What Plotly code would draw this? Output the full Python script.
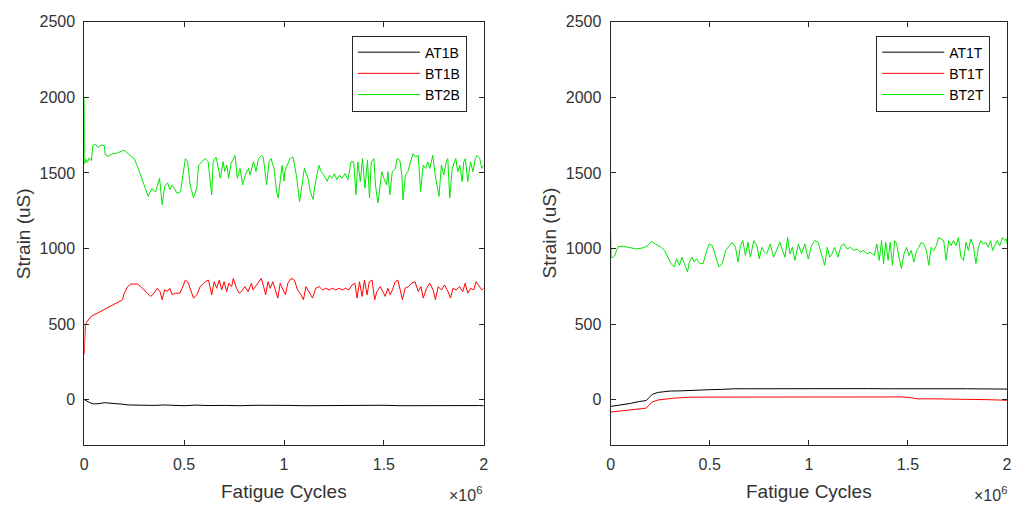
import numpy as np
import plotly.graph_objects as go

# ---------------- data (x in thousands of cycles, y in microstrain) ----------------
at1b_x = [0, 10, 25, 45, 70, 100, 130, 160, 190, 220, 260, 300, 350, 400, 450, 500, 560, 620, 700, 780,
          860, 940, 1020, 1100, 1180, 1260, 1340, 1420, 1500, 1580, 1660, 1740, 1820, 1900, 1980, 2000]
at1b_y = [0, -8, -18, -28, -27, -20, -22, -25, -30, -35, -37, -36, -38, -35, -38, -40, -36, -39, -38, -40,
          -37, -40, -38, -40, -39, -40, -38, -40, -37, -40, -39, -40, -38, -40, -39, -40]

bt1b_x = [0, 2, 5, 10, 35, 68, 117, 167, 192, 197, 217, 233, 266, 283, 300, 316, 332, 349, 365, 379,
          390, 402, 415, 428, 440, 456, 478, 490, 506, 518, 531, 547, 564, 580, 605, 622, 638, 650, 663, 676,
          688, 700, 713, 724, 738, 746, 762, 776, 787, 804, 820, 837, 845, 862, 878, 886, 898, 908, 920, 931,
          944, 958, 969, 981, 994, 1007, 1019, 1035, 1052, 1068, 1085, 1097, 1110, 1126, 1143, 1159, 1176, 1193, 1209, 1226,
          1242, 1259, 1275, 1292, 1308, 1325, 1341, 1355, 1366, 1378, 1391, 1403, 1416, 1427, 1441, 1454, 1465, 1482, 1494, 1507,
          1520, 1532, 1543, 1556, 1570, 1581, 1593, 1606, 1623, 1639, 1656, 1672, 1686, 1697, 1714, 1730, 1747, 1758, 1772, 1788,
          1804, 1821, 1834, 1846, 1862, 1879, 1895, 1907, 1920, 1934, 1950, 1962, 1978, 1990, 2000]
bt1b_y = [300, 420, 490, 509, 552, 574, 607, 639, 661, 694, 748, 765, 765, 748, 726, 704, 683, 704, 737, 715,
          661, 726, 715, 737, 694, 704, 704, 737, 791, 780, 726, 672, 694, 748, 780, 791, 694, 780, 737, 791,
          726, 780, 715, 770, 748, 802, 737, 704, 715, 748, 715, 770, 726, 759, 791, 802, 748, 694, 780, 737,
          780, 726, 672, 770, 726, 694, 770, 802, 791, 726, 694, 661, 748, 715, 672, 737, 748, 726, 737, 726,
          737, 726, 737, 726, 737, 726, 759, 770, 672, 780, 683, 791, 694, 780, 791, 661, 715, 748, 715, 683,
          737, 694, 726, 780, 791, 737, 661, 737, 748, 770, 780, 715, 748, 672, 737, 770, 726, 661, 748, 726,
          759, 715, 672, 737, 726, 748, 715, 770, 704, 737, 726, 780, 748, 726, 737]

bt2b_x = [0, 2, 8, 15, 25, 35, 43, 55, 70, 85, 100, 105, 120, 140, 160, 180, 200, 225, 250, 270,
          300, 320, 337, 357, 377, 390, 402, 417, 428, 440, 465, 482, 506, 517, 530, 547, 563, 572, 605, 620,
          638, 645, 660, 681, 695, 703, 714, 723, 735, 747, 755, 766, 780, 793, 806, 822, 830, 847, 860, 872,
          888, 896, 913, 925, 935, 950, 963, 971, 990, 1000, 1004, 1016, 1030, 1045, 1062, 1078, 1091, 1102, 1120, 1132,
          1145, 1158, 1175, 1186, 1200, 1216, 1228, 1240, 1252, 1265, 1278, 1290, 1306, 1320, 1336, 1349, 1360, 1370, 1382, 1393,
          1405, 1418, 1428, 1437, 1450, 1458, 1470, 1482, 1490, 1500, 1514, 1520, 1530, 1542, 1558, 1566, 1580, 1590, 1596, 1608,
          1620, 1633, 1646, 1658, 1672, 1684, 1697, 1709, 1720, 1730, 1745, 1757, 1776, 1788, 1800, 1812, 1820, 1830, 1842, 1860,
          1870, 1880, 1892, 1900, 1908, 1920, 1934, 1946, 1958, 1966, 1980, 1990, 2000]
bt2b_y = [2000, 1560, 1590, 1570, 1600, 1580, 1680, 1690, 1670, 1685, 1680, 1620, 1610, 1625, 1630, 1640, 1650, 1620, 1595, 1530,
          1420, 1345, 1395, 1375, 1465, 1290, 1410, 1435, 1390, 1420, 1365, 1375, 1595, 1575, 1420, 1335, 1400, 1550, 1595, 1575,
          1355, 1575, 1605, 1465, 1575, 1510, 1550, 1465, 1565, 1595, 1615, 1465, 1530, 1420, 1485, 1530, 1485, 1575, 1510, 1595,
          1615, 1605, 1420, 1575, 1595, 1530, 1375, 1335, 1550, 1445, 1510, 1550, 1595, 1605, 1485, 1310, 1445, 1530, 1465, 1375,
          1325, 1445, 1550, 1510, 1485, 1445, 1485, 1465, 1495, 1455, 1485, 1465, 1495, 1455, 1575, 1573, 1356, 1573, 1443, 1595,
          1399, 1584, 1334, 1573, 1595, 1421, 1301, 1421, 1508, 1464, 1421, 1508, 1356, 1508, 1530, 1595, 1584, 1486, 1323, 1486,
          1508, 1573, 1627, 1606, 1616, 1377, 1551, 1530, 1573, 1530, 1616, 1486, 1345, 1551, 1486, 1573, 1595, 1334, 1530, 1595,
          1508, 1551, 1443, 1573, 1595, 1443, 1573, 1508, 1595, 1616, 1595, 1530, 1551]

at1t_x = [0, 30, 60, 100, 140, 180, 195, 210, 240, 270, 300, 350, 400, 440, 500, 560, 620, 700, 800, 900,
          1000, 1100, 1200, 1300, 1400, 1500, 1600, 1700, 1800, 1900, 2000]
at1t_y = [-45, -40, -35, -25, -13, -6, 15, 35, 48, 55, 57, 58, 59, 60, 66, 68, 72, 72, 73, 72,
          73, 72, 72, 73, 72, 73, 73, 72, 72, 71, 70]

bt1t_x = [0, 30, 60, 100, 140, 180, 195, 210, 240, 280, 320, 360, 400, 500, 600, 700, 800, 900, 1000, 1100,
          1130, 1200, 1300, 1400, 1480, 1520, 1550, 1600, 1700, 1800, 1900, 2000]
bt1t_y = [-82, -78, -74, -66, -60, -56, -35, -15, -2, 5, 10, 13, 16, 17, 17, 17, 17, 17, 17, 18,
          20, 18, 18, 18, 18, 12, 5, 6, 2, 2, 0, -4]

bt2t_x = [0, 3, 13, 20, 30, 38, 63, 97, 130, 163, 188, 205, 230, 255, 272, 288, 305, 322, 333, 347,
          360, 372, 388, 397, 410, 422, 433, 450, 467, 480, 497, 513, 530, 547, 563, 580, 600, 613, 630, 643,
          655, 667, 680, 693, 705, 722, 738, 750, 763, 777, 788, 805, 822, 838, 855, 867, 880, 893, 905, 917,
          930, 947, 963, 980, 997, 1013, 1030, 1047, 1067, 1080, 1093, 1105, 1117, 1130, 1147, 1163, 1177, 1193, 1210, 1227,
          1243, 1260, 1277, 1293, 1310, 1330, 1343, 1355, 1367, 1377, 1388, 1400, 1410, 1422, 1433, 1443, 1455, 1467, 1480, 1493,
          1505, 1517, 1530, 1543, 1555, 1567, 1580, 1593, 1605, 1617, 1630, 1643, 1655, 1667, 1680, 1693, 1705, 1717, 1730, 1743,
          1755, 1767, 1780, 1793, 1805, 1817, 1830, 1843, 1855, 1867, 1880, 1893, 1905, 1917, 1927, 1938, 1950, 1963, 1977, 1988,
          1997, 2000]
bt2t_y = [1110, 940, 943, 950, 987, 1013, 1015, 1008, 997, 1004, 1019, 1047, 1030, 1008, 987, 943, 900, 878, 932, 889,
          943, 900, 845, 910, 943, 910, 932, 900, 900, 965, 1030, 1019, 943, 878, 900, 987, 1019, 1041, 1008, 910,
          1019, 1052, 954, 1041, 943, 1052, 1019, 932, 1008, 976, 965, 1030, 943, 987, 1041, 987, 943, 1073, 965, 1008,
          921, 1030, 965, 1030, 930, 1019, 1052, 1041, 943, 889, 1008, 943, 965, 1008, 943, 1019, 1030, 997, 1008, 987,
          997, 976, 987, 965, 976, 954, 1030, 921, 1052, 900, 1041, 921, 1041, 889, 1052, 1030, 943, 867, 965, 1008,
          954, 987, 910, 987, 1008, 1041, 1030, 987, 889, 1008, 987, 1019, 1073, 1063, 1052, 921, 1052, 1019, 1052, 1019,
          1073, 943, 921, 1041, 987, 1063, 1019, 900, 1008, 1052, 1030, 1041, 1008, 1052, 987, 1019, 1052, 1019, 1073, 1052,
          1063, 1030]

x_tickvals = [0, 0.5e6, 1e6, 1.5e6, 2e6]
x_ticktext = ["0", "0.5", "1", "1.5", "2"]
y_tickvals = [0, 500, 1000, 1500, 2000, 2500]

# ---------------- styling ----------------
FONT = "Liberation Sans, Arial, Helvetica, sans-serif"
AX = "#262626"
TXT = "#333333"
W, H = 1020, 508

def kc(v):
    return np.asarray(v, dtype=float) * 1000.0

fig = go.Figure()

left = [("AT1B", at1b_x, at1b_y, "#000000"),
        ("BT1B", bt1b_x, bt1b_y, "#ff0000"),
        ("BT2B", bt2b_x, bt2b_y, "#00e600")]
right = [("AT1T", at1t_x, at1t_y, "#000000"),
         ("BT1T", bt1t_x, bt1t_y, "#ff0000"),
         ("BT2T", bt2t_x, bt2t_y, "#00e600")]

for name, xs, ys, col in left:
    fig.add_trace(go.Scatter(x=kc(xs), y=ys, mode="lines", name=name,
                             line=dict(color=col, width=1), xaxis="x", yaxis="y",
                             legend="legend"))
for name, xs, ys, col in right:
    fig.add_trace(go.Scatter(x=kc(xs), y=ys, mode="lines", name=name,
                             line=dict(color=col, width=1), xaxis="x2", yaxis="y2",
                             legend="legend2"))

ydom = [1 - 444 / H, 1 - 14 / H]
xdom1 = [81 / W, 484 / W]
xdom2 = [612 / W, 1012 / W]

common_x = dict(range=[0, 2e6], tickvals=x_tickvals, ticktext=x_ticktext,
                showgrid=False, zeroline=False, showline=True, linecolor=AX, linewidth=1,
                mirror="ticks", ticks="inside", ticklen=5, tickcolor=AX,
                tickfont=dict(family=FONT, size=16, color=TXT), ticklabelstandoff=5)
common_y = dict(range=[-300, 2500], tickvals=y_tickvals,
                showgrid=False, zeroline=False, showline=True, linecolor=AX, linewidth=1,
                mirror="ticks", ticks="inside", ticklen=5, tickcolor=AX,
                tickfont=dict(family=FONT, size=16, color=TXT), ticklabelstandoff=5)

legend_common = dict(bgcolor="white", bordercolor=AX, borderwidth=1,
                     font=dict(family=FONT, size=14, color="#000000"),
                     xanchor="right", yanchor="top", itemwidth=62, tracegroupgap=0)

fig.update_layout(
    width=W, height=H,
    margin=dict(l=0, r=0, t=0, b=0),
    paper_bgcolor="white", plot_bgcolor="white",
    xaxis=dict(domain=xdom1, anchor="y", **common_x),
    yaxis=dict(domain=ydom, anchor="x", **common_y),
    xaxis2=dict(domain=xdom2, anchor="y2", **common_x),
    yaxis2=dict(domain=ydom, anchor="x2", **common_y),
    legend=dict(x=467 / W, y=1 - 28 / H, **legend_common),
    legend2=dict(x=995 / W, y=1 - 28 / H, **legend_common),
    showlegend=True,
)

ann = []
for xc, yt_x in [((81 + 484) / 2 / W, 20 / W), ((612 + 1012) / 2 / W, 550 / W)]:
    ann.append(dict(text="Fatigue Cycles", x=xc, y=1 - 491 / H, xref="paper", yref="paper",
                    showarrow=False, xanchor="center", yanchor="middle",
                    font=dict(family=FONT, size=19, color=TXT)))
    ann.append(dict(text="Strain (uS)", x=yt_x, y=1 - 229 / H, xref="paper", yref="paper",
                    showarrow=False, xanchor="center", yanchor="middle", textangle=-90,
                    font=dict(family=FONT, size=19, color=TXT)))
for xr in [484 / W, 1014 / W]:
    ann.append(dict(text="×10<sup>6</sup>", x=xr, y=1 - 494 / H, xref="paper", yref="paper",
                    showarrow=False, xanchor="right", yanchor="middle",
                    font=dict(family=FONT, size=16, color=TXT)))
fig.update_layout(annotations=ann)

fig.write_html("out.html")
